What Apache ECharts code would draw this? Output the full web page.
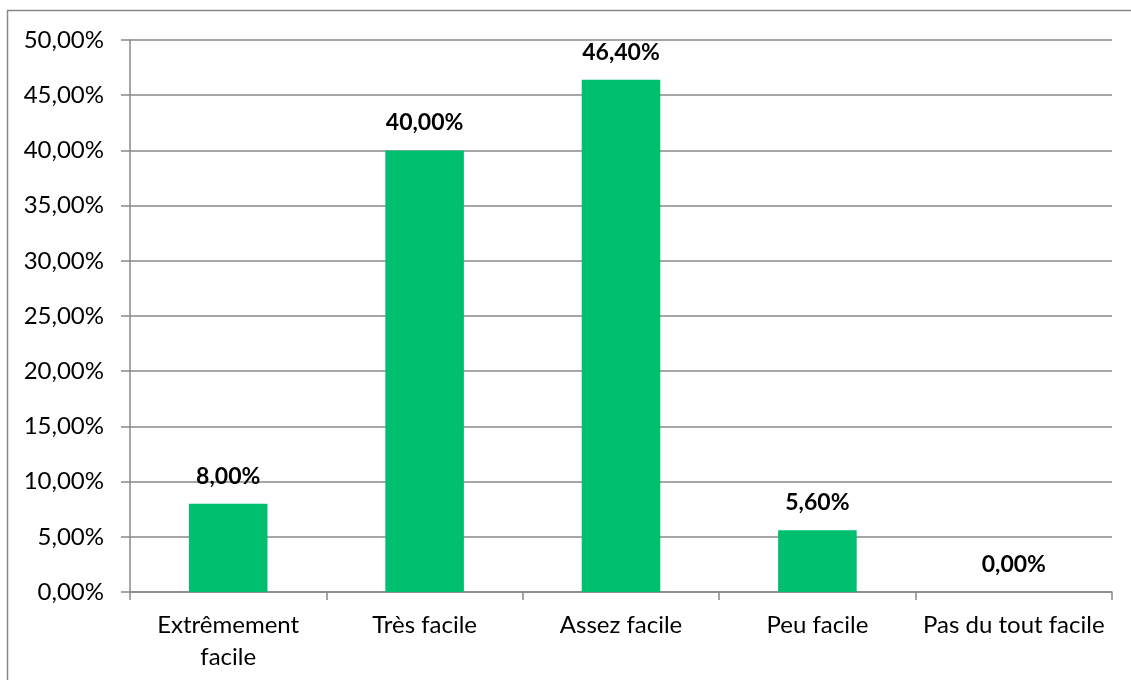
<!DOCTYPE html>
<html><head><meta charset="utf-8">
<script src="https://cdn.jsdelivr.net/npm/echarts@6/dist/echarts.min.js"></script>
<style>html,body{margin:0;padding:0;background:#fff}#c{width:1131px;height:680px}</style>
</head><body><div id="c"></div>
<script>
const categories = ['Extrêmement\nfacile', 'Très facile', 'Assez facile', 'Peu facile', 'Pas du tout facile'];
const values = [8.0, 40.0, 46.4, 5.6, 0.0];
const fmt = v => v.toFixed(2).replace('.', ',') + '%';
const FONT = 'Lato';
const chart = echarts.init(document.getElementById('c'));
chart.setOption({
  animation: false,
  graphic: [{type:'rect', shape:{x:7.5,y:10.5,width:1140,height:700}, style:{fill:'none', stroke:'#888', lineWidth:1.5}, silent:true}],
  grid: {left:130, right:19, top:40, bottom:88, containLabel:false},
  xAxis: {
    type:'category', data: categories,
    axisLine:{lineStyle:{color:'#888', width:1.5}},
    axisTick:{show:true, length:8, lineStyle:{color:'#888', width:1.5}},
    axisLabel:{color:'#000', fontFamily:FONT, fontSize:24, margin:17, lineHeight:32, interval:0}
  },
  yAxis: {
    type:'value', min:0, max:50, interval:5,
    axisLine:{show:true, lineStyle:{color:'#888', width:1.5}},
    axisTick:{show:true, length:9, lineStyle:{color:'#888', width:1.5}},
    splitLine:{lineStyle:{color:'#888', width:1.5}},
    axisLabel:{color:'#000', fontFamily:FONT, fontSize:24, margin:26, formatter: v => fmt(v)}
  },
  series: [{
    type:'bar', data: values, barWidth:'40%',
    itemStyle:{color:'#00BF6F'},
    label:{show:true, position:'top', distance:16, color:'#000', fontFamily:FONT, fontSize:23, fontWeight:'bold', formatter: p => fmt(p.value)}
  }]
});
</script></body></html>
